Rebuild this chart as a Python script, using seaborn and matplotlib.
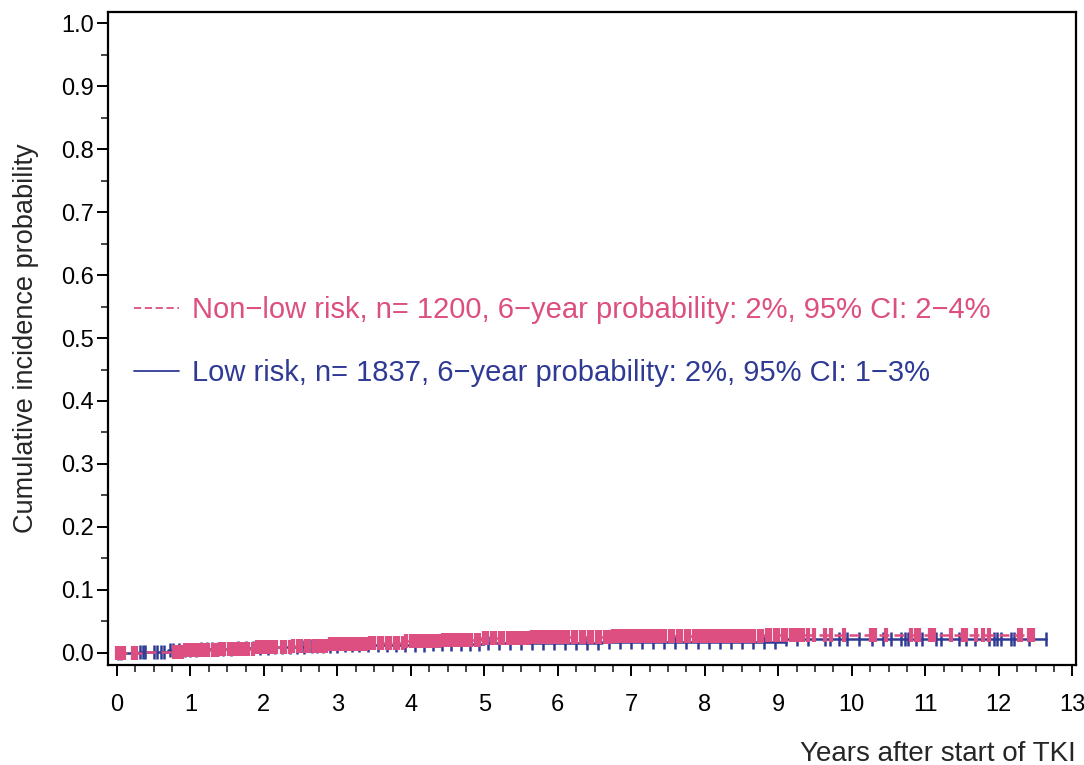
import numpy as np
import pandas as pd
import matplotlib
matplotlib.use("Agg")
import matplotlib.pyplot as plt
from matplotlib.ticker import MultipleLocator
from matplotlib.lines import Line2D
import seaborn as sns

# Kumulative Inzidenz (Stufen)
pink_t = [0.0, 0.35, 0.9, 1.4, 1.9, 2.4, 2.9, 3.4, 3.9, 4.4, 4.95, 5.6, 6.7, 8.8]
pink_ci = [0.0, 0.002, 0.004, 0.006, 0.009, 0.011, 0.014, 0.016, 0.018, 0.020, 0.024, 0.025, 0.027, 0.028]
pink_end = 12.48

blue_t = [0.0, 0.3, 0.7, 1.1, 1.6, 2.1, 2.6, 3.1, 3.7, 4.3, 5.0, 6.6, 9.1]
blue_ci = [0.0, 0.002, 0.004, 0.006, 0.008, 0.010, 0.011, 0.012, 0.013, 0.014, 0.015, 0.017, 0.022]
blue_end = 12.64

# zensierte Beobachtungen
pink_cens = [0.0, 0.03, 0.06, 0.1, 0.22, 0.26,
             0.78, 0.83, 0.88, 0.93, 0.98, 1.03, 1.08, 1.13, 1.18, 1.24,
             1.31, 1.36, 1.41, 1.46, 1.53, 1.58, 1.63, 1.69, 1.74, 1.79, 1.85, 1.9, 1.96,
             2.01, 2.07, 2.12, 2.17, 2.24, 2.29, 2.35, 2.4, 2.46, 2.51, 2.57, 2.62, 2.68,
             2.73, 2.79, 2.84, 2.9, 2.95, 3.01, 3.06, 3.12, 3.17, 3.23, 3.28, 3.34, 3.39,
             3.45, 3.5, 3.56, 3.61, 3.67, 3.72, 3.78, 3.83, 3.89, 3.94, 4.0, 4.05, 4.11,
             4.16, 4.22, 4.27, 4.33, 4.38, 4.44, 4.49, 4.55, 4.6, 4.66, 4.71, 4.77, 4.82,
             4.88, 4.93, 4.99, 5.04, 5.1, 5.15, 5.21, 5.26, 5.32, 5.37, 5.43, 5.48, 5.54,
             5.59, 5.65, 5.7, 5.76, 5.81, 5.87, 5.92, 5.98, 6.03, 6.09, 6.14, 6.2, 6.25,
             6.31, 6.36, 6.42, 6.47, 6.53, 6.58, 6.64, 6.69, 6.75, 6.8, 6.86, 6.91, 6.97,
             7.02, 7.08, 7.13, 7.19, 7.24, 7.3, 7.35, 7.41, 7.46, 7.52, 7.57, 7.63, 7.68,
             7.74, 7.79, 7.85, 7.9, 7.96, 8.01, 8.07, 8.12, 8.18, 8.23, 8.29, 8.34, 8.4,
             8.45, 8.51, 8.56, 8.62, 8.67, 8.73, 8.78, 8.84, 8.89, 8.95, 9.0, 9.06, 9.11,
             9.17, 9.22, 9.28, 9.34, 9.41, 9.48,
             9.63, 9.72, 9.9, 10.26, 10.31, 10.47, 10.81, 10.87, 10.92, 11.06, 11.12,
             11.35, 11.51, 11.55, 11.69, 11.78, 11.87, 12.28, 12.3, 12.41, 12.46]

blue_cens = [0.02, 0.05, 0.31, 0.35, 0.38, 0.5, 0.55, 0.6, 0.64, 0.72, 0.76, 0.85,
             0.92, 1.0, 1.08, 1.15, 1.22, 1.3, 1.38, 1.45, 1.55, 1.65, 1.75, 1.85, 1.95,
             2.05, 2.15, 2.25, 2.35, 2.45, 2.55, 2.65, 2.72, 2.8, 2.9, 3.0, 3.1, 3.2,
             3.3, 3.42, 3.55, 3.68, 3.8, 3.92, 4.05, 4.18, 4.3, 4.42, 4.55, 4.68, 4.8,
             4.92, 5.05, 5.2, 5.35, 5.5, 5.65, 5.8, 5.95, 6.1, 6.25, 6.4, 6.55, 6.7,
             6.85, 7.0, 7.15, 7.3, 7.45, 7.6, 7.75, 7.9, 8.05, 8.2, 8.35, 8.5, 8.65,
             8.8, 8.95, 9.1, 9.25, 9.4,
             9.63, 9.7, 9.83, 9.94, 10.1, 10.28, 10.42, 10.53, 10.67, 10.72, 10.76,
             10.87, 10.96, 11.15, 11.21, 11.46, 11.55, 11.67, 11.87, 11.94, 11.98,
             12.03, 12.17, 12.21, 12.41, 12.64]

pink_label = "Non\u2212low risk, n= 1200, 6\u2212year probability: 2%, 95% CI: 2\u22124%"
blue_label = "Low risk, n= 1837, 6\u2212year probability: 2%, 95% CI: 1\u22123%"

pink_col = "#DC4F80"
blue_col = "#2E3A94"

sns.set_style("ticks")
plt.rcParams["font.family"] = ["Liberation Sans", "DejaVu Sans"]


def step_df(t, ci, end):
    return pd.DataFrame({"t": list(t) + [end], "ci": list(ci) + [ci[-1]]})


def cens_df(t, ci, cens):
    idx = np.searchsorted(t, cens, side="right") - 1
    return pd.DataFrame({"t": cens, "ci": np.array(ci)[idx]})


fig = plt.figure(figsize=(10.84, 7.65), dpi=100)
ax = fig.add_axes([0.0996, 0.131, 0.893, 0.853])

sns.lineplot(data=step_df(blue_t, blue_ci, blue_end), x="t", y="ci", ax=ax,
             color=blue_col, lw=1.8, drawstyle="steps-post", estimator=None,
             sort=False, zorder=2)
sns.scatterplot(data=cens_df(blue_t, blue_ci, blue_cens), x="t", y="ci", ax=ax,
                marker="|", s=110, linewidth=1.8, color=blue_col, zorder=3)
sns.lineplot(data=step_df(pink_t, pink_ci, pink_end), x="t", y="ci", ax=ax,
             color=pink_col, lw=1.8, linestyle=(0, (4, 2)), drawstyle="steps-post",
             estimator=None, sort=False, zorder=4)
sns.scatterplot(data=cens_df(pink_t, pink_ci, pink_cens), x="t", y="ci", ax=ax,
                marker="|", s=100, linewidth=3.0, color=pink_col, zorder=5)

ax.set_xlim(-0.122, 13.05)
ax.set_ylim(-0.019, 1.0175)
ax.xaxis.set_major_locator(MultipleLocator(1))
ax.xaxis.set_minor_locator(MultipleLocator(0.25))
ax.yaxis.set_major_locator(MultipleLocator(0.1))
ax.yaxis.set_minor_locator(MultipleLocator(0.05))
ax.yaxis.set_major_formatter(matplotlib.ticker.FormatStrFormatter("%.1f"))
ax.tick_params(which="major", length=8, width=1.4, labelsize=17, colors="black")
ax.tick_params(which="minor", length=5, width=1.2)
ax.tick_params(axis="y", which="major", pad=2)
ax.tick_params(axis="x", which="major", pad=13)
for sp in ax.spines.values():
    sp.set_visible(True)
    sp.set_linewidth(1.6)
    sp.set_color("black")

ax.set_ylabel("Cumulative incidence probability", fontsize=19.5, labelpad=16)
ax.set_xlabel("Years after start of TKI", fontsize=20, loc="right", labelpad=18)

handles = [Line2D([], [], color=pink_col, lw=1.3, linestyle=(0, (4, 2))),
           Line2D([], [], color=blue_col, lw=1.3)]
ax.legend(handles, [pink_label, blue_label], loc="upper left",
          bbox_to_anchor=(0.0, 0.605), frameon=False, fontsize=21,
          labelcolor=[pink_col, blue_col], handlelength=1.55, handletextpad=0.42,
          labelspacing=1.2)

fig.savefig("out.png", dpi=100)
